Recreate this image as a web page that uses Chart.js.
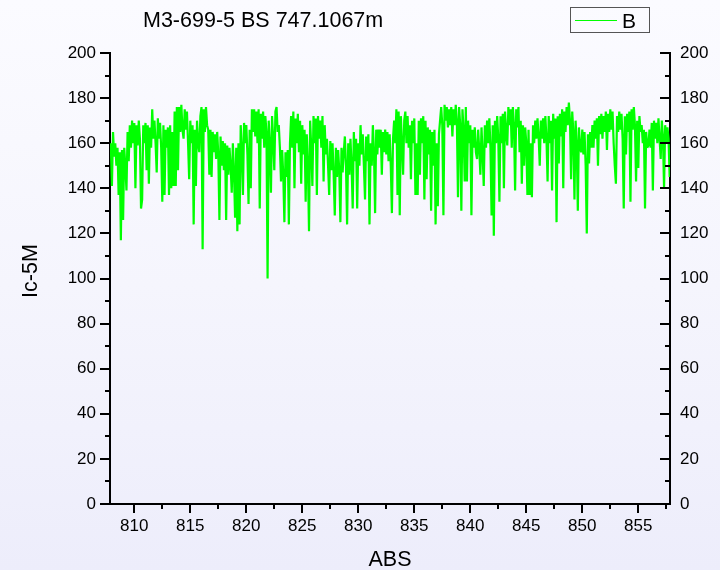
<!DOCTYPE html>
<html>
<head>
<meta charset="utf-8">
<title>M3-699-5 BS 747.1067m</title>
<script src="https://cdn.jsdelivr.net/npm/chart.js@4.4.1/dist/chart.umd.min.js"></script>
<style>
  html, body { margin: 0; padding: 0; }
  body {
    width: 720px; height: 570px; overflow: hidden;
    background: linear-gradient(to bottom, #fbfbff 0%, #f5f5fd 50%, #ededfb 100%);
  }
  #wrap { position: relative; width: 720px; height: 570px; }
</style>
</head>
<body>
<div id="wrap"><canvas id="chart" width="720" height="570"></canvas></div>
<script>
// sampled trace, one value every 0.1 of ABS starting at 807.9
const absStart = 807.9;
const absStep = 0.1;
const icValues = [
  160, 141, 165, 154, 160, 150, 158, 137, 156, 117,   // 807.9
  157, 126, 158, 150, 139, 165, 152, 168, 158, 170,   // 808.9
  160, 169, 140, 168, 159, 170, 162, 131, 135, 168,   // 809.9
  160, 169, 148, 168, 142, 167, 158, 175, 162, 170,   // 810.9
  160, 147, 171, 162, 169, 158, 134, 168, 137, 166,   // 811.9
  158, 167, 137, 168, 140, 165, 141, 174, 141, 176,   // 812.9
  148, 176, 165, 177, 166, 162, 175, 166, 174, 160,   // 813.9
  144, 170, 160, 168, 124, 166, 141, 170, 160, 156,   // 814.9
  172, 176, 113, 175, 165, 176, 168, 166, 146, 166,   // 815.9
  145, 165, 156, 164, 153, 165, 155, 126, 163, 150,   // 816.9
  161, 148, 160, 126, 159, 146, 158, 150, 138, 160,   // 817.9
  147, 127, 158, 121, 160, 124, 168, 158, 137, 169,   // 818.9
  160, 168, 155, 133, 166, 140, 175, 165, 175, 163,   // 819.9
  174, 160, 175, 131, 173, 162, 174, 158, 172, 165,   // 820.9
  100, 170, 160, 138, 172, 162, 148, 174, 176, 165,   // 821.9
  168, 158, 143, 157, 146, 125, 156, 145, 157, 124,   // 822.9
  160, 172, 158, 174, 140, 171, 160, 173, 156, 170,   // 823.9
  142, 168, 155, 166, 134, 164, 150, 121, 170, 158,   // 824.9
  141, 172, 160, 171, 137, 172, 162, 170, 158, 172,   // 825.9
  143, 168, 155, 162, 150, 137, 161, 148, 160, 146,   // 826.9
  128, 158, 145, 157, 148, 125, 158, 147, 156, 163,   // 827.9
  150, 124, 160, 146, 162, 150, 131, 165, 152, 162,   // 828.9
  131, 160, 150, 168, 155, 164, 150, 135, 163, 152,   // 829.9
  164, 124, 160, 150, 168, 156, 129, 166, 155, 166,   // 830.9
  158, 166, 146, 165, 156, 166, 155, 165, 152, 164,   // 831.9
  150, 129, 162, 170, 160, 175, 137, 174, 128, 172,   // 832.9
  160, 146, 170, 174, 160, 172, 158, 168, 144, 170,   // 833.9
  160, 171, 137, 160, 137, 170, 146, 171, 160, 172,   // 834.9
  135, 170, 144, 167, 155, 166, 130, 165, 150, 166,   // 835.9
  124, 160, 132, 164, 170, 176, 168, 128, 177, 170,   // 836.9
  176, 167, 175, 168, 176, 163, 175, 168, 177, 170,   // 837.9
  136, 176, 168, 130, 175, 166, 143, 176, 143, 170,   // 838.9
  160, 168, 128, 166, 158, 167, 156, 153, 166, 157,   // 839.9
  146, 167, 155, 141, 168, 158, 170, 160, 171, 158,   // 840.9
  128, 168, 119, 170, 160, 172, 162, 134, 172, 160,   // 841.9
  173, 140, 174, 165, 159, 176, 168, 175, 158, 176,   // 842.9
  168, 139, 175, 167, 176, 156, 170, 142, 168, 150,   // 843.9
  167, 160, 137, 166, 137, 160, 136, 168, 160, 170,   // 844.9
  162, 171, 163, 150, 170, 162, 171, 160, 172, 162,   // 845.9
  143, 172, 160, 170, 139, 173, 162, 171, 125, 172,   // 846.9
  151, 173, 163, 175, 140, 174, 165, 176, 168, 178,   // 847.9
  170, 144, 174, 165, 135, 170, 160, 130, 167, 158,   // 848.9
  156, 166, 155, 165, 150, 120, 164, 151, 165, 158,   // 849.9
  168, 158, 170, 162, 171, 150, 172, 164, 173, 162,   // 850.9
  172, 165, 174, 157, 173, 165, 175, 166, 174, 160,   // 851.9
  150, 142, 172, 165, 174, 166, 173, 162, 131, 172,   // 852.9
  155, 173, 165, 174, 134, 175, 166, 176, 168, 143,   // 853.9
  170, 149, 172, 165, 168, 160, 166, 131, 165, 158,   // 854.9
  159, 166, 158, 169, 139, 170, 162, 169, 160, 171,   // 855.9
  162, 153, 170, 163, 140, 168, 160, 167, 162, 145    // 856.9
];

const xMin = 807.83;
const xMax = 857.83;
const xTicks = [810, 815, 820, 825, 830, 835, 840, 845, 850, 855];
const xMinorTicks = [812.5, 817.5, 822.5, 827.5, 832.5, 837.5, 842.5, 847.5, 852.5, 857.5];
const yTicks = [0, 20, 40, 60, 80, 100, 120, 140, 160, 180, 200];
const yMinorTicks = [10, 30, 50, 70, 90, 110, 130, 150, 170, 190];

const titleText = 'M3-699-5 BS 747.1067m';
const seriesName = 'B';
const xTitle = 'ABS';
const yTitle = 'Ic-5M';

const FONT = '"Liberation Sans", Arial, Helvetica, sans-serif';
const GREEN = '#00ff00';

const points = icValues.map((v, i) => ({ x: absStart + i * absStep, y: v }));

// tick marks: left axis points out, right axis points in, bottom points down
const tickMarks = {
  id: 'tickMarks',
  afterDraw(chart) {
    const { ctx, chartArea, scales } = chart;
    ctx.save();
    ctx.strokeStyle = '#000';
    ctx.lineWidth = 2;
    ctx.beginPath();
    const yTick = (v, len) => {
      const py = Math.round(scales.y.getPixelForValue(v));
      ctx.moveTo(chartArea.left, py); ctx.lineTo(chartArea.left - len, py);
      ctx.moveTo(chartArea.right, py); ctx.lineTo(chartArea.right - len, py);
    };
    yTicks.forEach(v => yTick(v, 10));
    yMinorTicks.forEach(v => yTick(v, 5));
    const xTick = (v, len) => {
      const px = Math.round(scales.x.getPixelForValue(v));
      ctx.moveTo(px, chartArea.bottom); ctx.lineTo(px, chartArea.bottom + len);
    };
    xTicks.forEach(v => xTick(v, 9));
    xMinorTicks.forEach(v => xTick(v, 5));
    ctx.stroke();
    ctx.restore();
  }
};

// title, axis titles and the boxed legend
const labels = {
  id: 'labels',
  afterDraw(chart) {
    const { ctx } = chart;
    ctx.save();
    ctx.fillStyle = '#000';
    ctx.font = '21.5px ' + FONT;
    ctx.textBaseline = 'alphabetic';
    ctx.textAlign = 'left';
    ctx.fillText(titleText, 143, 27);

    ctx.textAlign = 'center';
    ctx.fillText(xTitle, 390, 566);

    ctx.save();
    ctx.translate(37, 271);
    ctx.rotate(-Math.PI / 2);
    ctx.fillText(yTitle, 0, 0);
    ctx.restore();

    // legend
    ctx.strokeStyle = '#555';
    ctx.lineWidth = 1;
    ctx.strokeRect(570.5, 7.5, 79, 25);
    ctx.strokeStyle = GREEN;
    ctx.beginPath();
    ctx.moveTo(575, 20.5); ctx.lineTo(617, 20.5);
    ctx.stroke();
    ctx.textAlign = 'left';
    ctx.fillStyle = '#000';
    ctx.font = '21px ' + FONT;
    ctx.fillText(seriesName, 622, 28);
    ctx.restore();
  }
};

new Chart(document.getElementById('chart'), {
  type: 'line',
  data: {
    datasets: [{
      label: seriesName,
      data: points,
      borderColor: GREEN,
      borderWidth: 2.2,
      borderJoinStyle: 'bevel',
      pointRadius: 0,
      tension: 0,
      fill: false
    }]
  },
  options: {
    responsive: false,
    animation: false,
    events: [],
    parsing: false,
    normalized: true,
    layout: { padding: { top: 53, right: 0, left: 0, bottom: 0 } },
    plugins: {
      legend: { display: false },
      title: { display: false },
      tooltip: { enabled: false }
    },
    scales: {
      x: {
        type: 'linear',
        min: xMin,
        max: xMax,
        afterBuildTicks: s => { s.ticks = xTicks.map(v => ({ value: v })); },
        afterFit: s => { s.height = 66; },
        grid: { display: false, drawTicks: false },
        border: { display: true, color: '#000', width: 2 },
        ticks: {
          color: '#000',
          font: { family: FONT, size: 17 },
          padding: 12,
          maxRotation: 0,
          callback: v => String(v)
        }
      },
      y: {
        position: 'left',
        min: 0,
        max: 200,
        afterBuildTicks: s => { s.ticks = yTicks.map(v => ({ value: v })); },
        afterFit: s => { s.width = 110; },
        grid: { display: false, drawTicks: false },
        border: { display: true, color: '#000', width: 2 },
        ticks: {
          color: '#000',
          font: { family: FONT, size: 17 },
          padding: 14
        }
      },
      y2: {
        position: 'right',
        min: 0,
        max: 200,
        afterBuildTicks: s => { s.ticks = yTicks.map(v => ({ value: v })); },
        afterFit: s => { s.width = 50; },
        grid: { display: false, drawTicks: false },
        border: { display: true, color: '#000', width: 2 },
        ticks: {
          color: '#000',
          font: { family: FONT, size: 17 },
          padding: 10
        }
      }
    }
  },
  plugins: [tickMarks, labels]
});
</script>
</body>
</html>
